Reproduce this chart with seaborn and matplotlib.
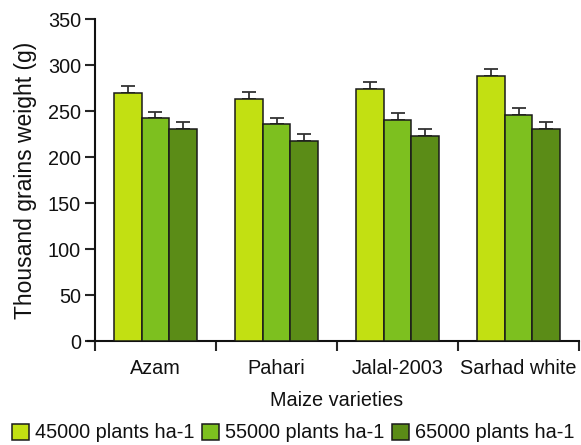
import matplotlib
matplotlib.use("Agg")
import matplotlib.pyplot as plt
import seaborn as sns
import pandas as pd
import numpy as np

varieties = ["Azam", "Pahari", "Jalal-2003", "Sarhad white"]
densities = ["45000 plants ha-1", "55000 plants ha-1", "65000 plants ha-1"]
w45 = [270, 263.5, 274, 288]
w55 = [242, 235.5, 240.5, 246]
w65 = [231, 217, 222.5, 231]
e45 = [7.2, 6.8, 7.6, 7.9]
e55 = [7.2, 7.2, 7.1, 7.1]
e65 = [7.2, 7.6, 7.6, 7.2]
yticks = [0, 50, 100, 150, 200, 250, 300, 350]

colors = ["#c2e012", "#7dc01f", "#5b8c17"]

rows = []
for d, vals, errs in zip(densities, [w45, w55, w65], [e45, e55, e65]):
    for v, val, er in zip(varieties, vals, errs):
        rows.append({"variety": v, "density": d, "weight": val, "err": er})
df = pd.DataFrame(rows)

sns.set_style("ticks")
plt.rcParams["font.family"] = ["Liberation Sans", "DejaVu Sans"]

fig = plt.figure(figsize=(5.81, 4.45), dpi=100)
ax = fig.add_axes([0.1635, 0.2337, 0.8331, 0.7233])

sns.barplot(data=df, x="variety", y="weight", hue="density", order=varieties,
            hue_order=densities, palette=colors, saturation=1, width=0.68,
            errorbar=None, edgecolor="#1a1a1a", linewidth=1.1, ax=ax,
            legend=True, zorder=3)

# error bars on top of each bar, positioned from the library's bar patches
for d, cont in zip(densities, ax.containers):
    sub = df[df["density"] == d].set_index("variety").loc[varieties]
    xs = [p.get_x() + p.get_width() / 2 for p in cont.patches]
    ax.errorbar(xs, sub["weight"].values,
                yerr=[np.zeros(len(xs)), sub["err"].values],
                fmt="none", ecolor="#333333", elinewidth=1.3, capsize=5,
                capthick=1.3, zorder=2)

ax.set_ylim(0, 350)
ax.set_yticks(yticks)
ax.set_xlim(-0.5, 3.5)
ax.set_xticks([-0.5, 0.5, 1.5, 2.5, 3.5])
ax.set_xticklabels([])
ax.set_xticks(range(len(varieties)), minor=True)
ax.set_xticklabels(varieties, minor=True)
ax.tick_params(axis="x", which="minor", length=0, labelsize=14.3, pad=13)
ax.tick_params(axis="x", which="major", length=7, width=1.5, direction="out")
ax.tick_params(axis="y", length=7, width=1.5, labelsize=14.3, pad=3,
               labelcolor="#111111")
ax.tick_params(axis="x", which="minor", labelcolor="#111111")
for s in ["left", "bottom"]:
    ax.spines[s].set_linewidth(1.5)
    ax.spines[s].set_color("#111111")
ax.spines["right"].set_visible(False)
ax.spines["top"].set_visible(False)
ax.spines["bottom"].set_bounds(-0.555, 3.5)

ax.set_xlabel("Maize varieties", fontsize=14.3, labelpad=9, color="#111111")
ax.set_ylabel("Thousand grains weight (g)", fontsize=16.5, labelpad=8,
              color="#111111")

handles, labels = ax.get_legend_handles_labels()
ax.get_legend().remove()
fig.legend(handles, labels, loc="center", bbox_to_anchor=(0.505, 0.027), ncol=3,
           frameon=False, fontsize=14.3, handlelength=0.85, handleheight=0.85,
           handletextpad=0.3, columnspacing=0.4, borderaxespad=0,
           labelcolor="#111111")

fig.savefig("out.png", dpi=100)
